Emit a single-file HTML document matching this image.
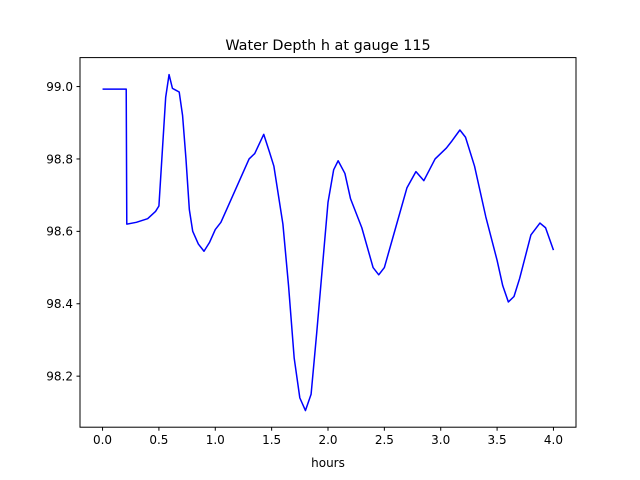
<!DOCTYPE html>
<html><head><meta charset="utf-8"><style>body{margin:0;background:#fff}svg{display:block}text{font-family:"DejaVu Sans","Liberation Sans",sans-serif;fill:#000}</style></head>
<body>
<svg id="chart" width="640" height="480">
<rect width="640" height="480" fill="#fff"/>
<text x="328" y="50" font-size="14.4" text-anchor="middle">Water Depth h at gauge 115</text>
<g id="plot"></g>
<rect x="80" y="57.6" width="496" height="369.6" fill="none" stroke="#000" stroke-width="1"/>
<text x="328" y="467" font-size="12" text-anchor="middle">hours</text>
</svg>
<script>
const xTicks=[0,0.5,1,1.5,2,2.5,3,3.5,4];
const xTickLabels=["0.0","0.5","1.0","1.5","2.0","2.5","3.0","3.5","4.0"];
const yTicks=[98.2,98.4,98.6,98.8,99.0];
const yTickLabels=["98.2","98.4","98.6","98.8","99.0"];
const hours=[0,0.21,0.215,0.3,0.4,0.47,0.5,0.53,0.56,0.59,0.62,0.65,0.68,0.71,0.74,0.77,0.8,0.85,0.9,0.95,1.0,1.05,1.1,1.2,1.3,1.35,1.43,1.48,1.52,1.6,1.65,1.7,1.75,1.8,1.85,1.9,1.95,2.0,2.05,2.09,2.15,2.2,2.3,2.4,2.45,2.5,2.6,2.7,2.78,2.85,2.9,2.95,3.05,3.1,3.17,3.22,3.3,3.4,3.5,3.55,3.6,3.65,3.7,3.8,3.88,3.93,4.0];
const depth=[98.993,98.993,98.62,98.625,98.635,98.655,98.67,98.82,98.97,99.033,98.995,98.99,98.985,98.92,98.8,98.66,98.6,98.565,98.545,98.57,98.605,98.625,98.66,98.73,98.8,98.815,98.868,98.82,98.78,98.62,98.45,98.25,98.14,98.105,98.15,98.32,98.5,98.68,98.77,98.795,98.76,98.69,98.61,98.5,98.48,98.5,98.61,98.72,98.765,98.74,98.77,98.8,98.83,98.85,98.88,98.86,98.78,98.64,98.52,98.45,98.405,98.42,98.47,98.59,98.623,98.61,98.548];
const L=80,R=576,T=57.6,B=427.2,xMin=-0.2,xMax=4.2,yMin=98.059,yMax=99.080;
const sx=v=>L+(v-xMin)/(xMax-xMin)*(R-L);
const sy=v=>B-(v-yMin)/(yMax-yMin)*(B-T);
const NS="http://www.w3.org/2000/svg";
const g=document.getElementById('plot');
function mk(t,a){const e=document.createElementNS(NS,t);for(const k in a)e.setAttribute(k,a[k]);g.appendChild(e);return e;}
xTicks.forEach((v,i)=>{
 const t=mk('line',{x1:sx(v),x2:sx(v),y1:B,y2:B+3.5,stroke:'#000'});
 
 
 const l=mk('text',{x:sx(v),y:B+17,'font-size':12,'text-anchor':'middle'});
 l.textContent=xTickLabels[i];
 
 
});
yTicks.forEach((v,i)=>{
 const t=mk('line',{x1:L-3.5,x2:L,y1:sy(v),y2:sy(v),stroke:'#000'});
 
 
 const l=mk('text',{x:L-7,y:sy(v)+4.3,'font-size':12,'text-anchor':'end'});
 l.textContent=yTickLabels[i];
 
 
});
const p=mk('polyline',{points:hours.map((h,i)=>sx(h)+','+sy(depth[i])).join(' '),fill:'none',stroke:'#0000ff','stroke-width':1.5,'stroke-linejoin':'round'});


</script>
</body></html>
